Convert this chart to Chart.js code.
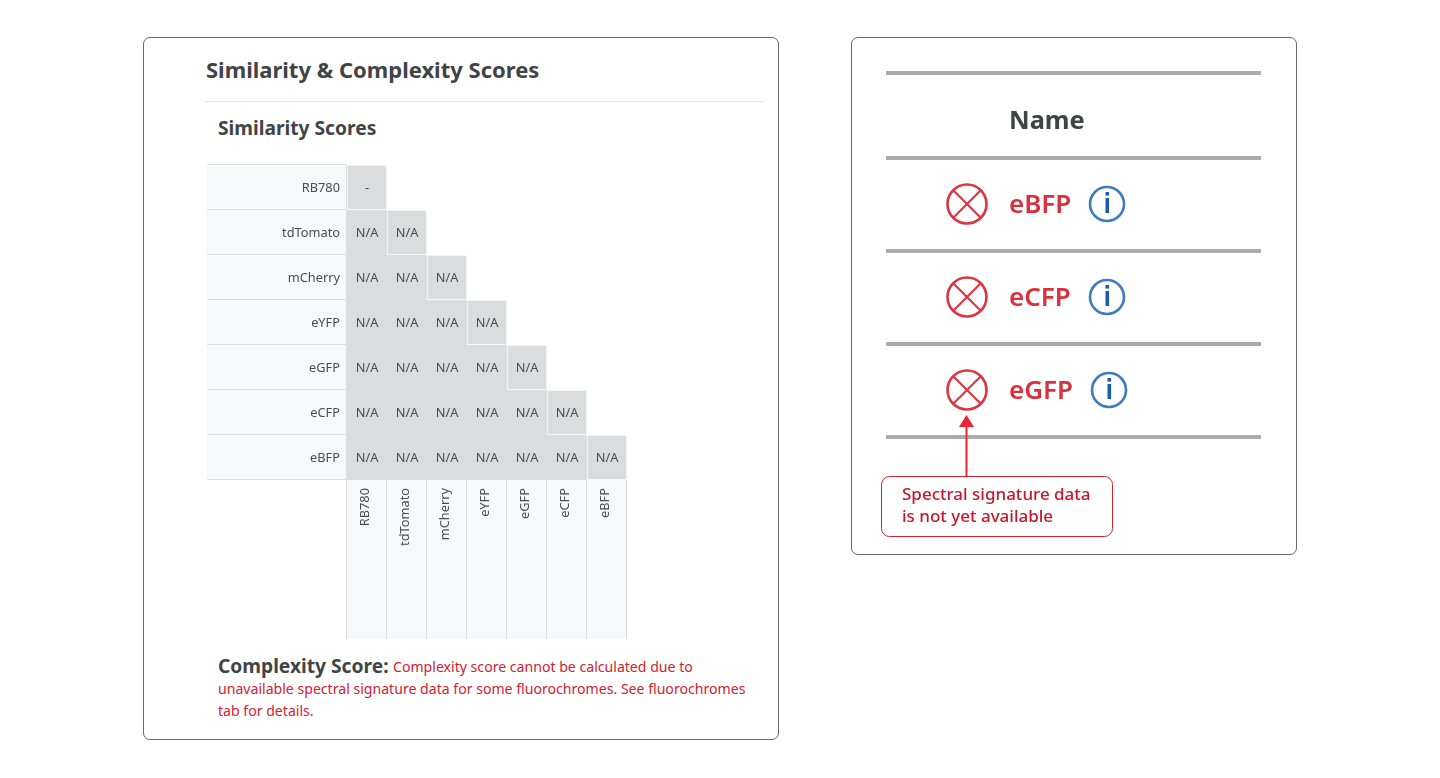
<!DOCTYPE html>
<html>
<head>
<meta charset="utf-8">
<title>Similarity & Complexity Scores</title>
<script src="https://cdn.jsdelivr.net/npm/chart.js@4"></script>
<style>
  html, body { margin: 0; padding: 0; background: #fff; }
  body { width: 1440px; height: 778px; position: relative; overflow: hidden; font-family: "Noto Sans", sans-serif; }
  .panel { position: absolute; box-sizing: border-box; border: 1px solid #66686b; border-radius: 7px; }
  .txt { position: absolute; white-space: nowrap; line-height: 1; transform: translateY(-50%); }
  .heading { color: #414345; font-weight: 700; }
  .red { color: #d4202f; font-size: 14.1px; }
  .rule { position: absolute; left: 886px; width: 375px; height: 4px; background: #ababab; filter: blur(.7px); }
  .soft { filter: blur(.6px); }
  #matrix { position: absolute; left: 207px; top: 164px; width: 420px; height: 475px; }
  svg { position: absolute; left: 0; top: 0; }
</style>
</head>
<body>
<div class="panel" style="left:143px;top:37px;width:636px;height:703px"></div>
<div class="panel" style="left:851px;top:37px;width:446px;height:518px"></div>

<div class="txt heading" style="left:206px;top:69px;font-size:22px">Similarity &amp; Complexity Scores</div>
<div style="position:absolute;left:205px;top:101px;width:560px;height:1px;background:#e2e3e5"></div>
<div class="txt heading" style="left:218px;top:128px;font-size:19.2px">Similarity Scores</div>

<canvas id="matrix" width="420" height="475"></canvas>

<div class="txt heading" style="left:218px;top:666px;font-size:19.2px">Complexity Score:</div>
<div class="txt red" style="left:393px;top:666.5px">Complexity score cannot be calculated due to</div>
<div class="txt red" style="left:218px;top:688.5px">unavailable spectral signature data for some fluorochromes. See fluorochromes</div>
<div class="txt red" style="left:218px;top:710.5px">tab for details.</div>

<div class="rule" style="top:71px"></div>
<div class="rule" style="top:156px"></div>
<div class="rule" style="top:249px"></div>
<div class="rule" style="top:342px"></div>
<div class="rule" style="top:435px"></div>
<div class="txt heading soft" style="left:1009px;top:120px;font-size:25.4px">Name</div>
<div class="txt soft" style="left:1009px;top:203px;font-size:26px;font-weight:600;color:#d9303c">eBFP</div>
<div class="txt soft" style="left:1009px;top:296px;font-size:26px;font-weight:600;color:#d9303c">eCFP</div>
<div class="txt soft" style="left:1009px;top:389px;font-size:26px;font-weight:600;color:#d9303c">eGFP</div>

<svg width="1440" height="778" id="icons" class="soft"></svg>
<svg width="1440" height="778">
  <line x1="966.5" y1="477" x2="966.5" y2="425" stroke="#ec2430" stroke-width="2"/>
  <polygon points="966.5,415 959,427 974,427" fill="#ec2430"/>
  <rect x="881.5" y="476.5" width="231" height="60" rx="8" fill="#fff" stroke="#d4202f"/>
</svg>
<div class="txt" style="left:902px;top:493px;font-size:17px;font-weight:500;color:#c9162b">Spectral signature data</div>
<div class="txt" style="left:902px;top:515px;font-size:17px;font-weight:500;color:#c9162b">is not yet available</div>

<script>
const fluorochromes = ['RB780', 'tdTomato', 'mCherry', 'eYFP', 'eGFP', 'eCFP', 'eBFP'];

// scores per row, left to right, only the lower triangle exists
const scoresRB780 = ['-'];
const scoresTdTomato = ['N/A', 'N/A'];
const scoresMCherry = ['N/A', 'N/A', 'N/A'];
const scoresEYFP = ['N/A', 'N/A', 'N/A', 'N/A'];
const scoresEGFP = ['N/A', 'N/A', 'N/A', 'N/A', 'N/A'];
const scoresECFP = ['N/A', 'N/A', 'N/A', 'N/A', 'N/A', 'N/A'];
const scoresEBFP = ['N/A', 'N/A', 'N/A', 'N/A', 'N/A', 'N/A', 'N/A'];
const scoreRows = [scoresRB780, scoresTdTomato, scoresMCherry, scoresEYFP, scoresEGFP, scoresECFP, scoresEBFP];

// rows that failed, right hand panel
const iconRows = [[204, 1107], [297, 1107], [390, 1109]];

const CELL = '#dbdcde';
const PANEL = '#f7f8fa';
const LINE = '#dcdee1';
const TEXT = '#4a4c4f';
const FONT = '"Noto Sans", sans-serif';

// each row is a floating bar per column, y is the row's band on the hidden scale
const datasets = scoreRows.map((row, r) => ({
  label: fluorochromes[r],
  scores: row,
  data: row.map(() => [fluorochromes.length - r - 1, fluorochromes.length - r]),
  backgroundColor: CELL,
  borderColor: (c) => (c.dataIndex === r ? '#ffffff' : CELL),
  borderWidth: (c) => (c.dataIndex === r ? 1 : 0),
  borderSkipped: false,
  categoryPercentage: 1,
  barPercentage: 1,
  grouped: false,
  yAxisID: 'y'
}));

// light label columns and their lines, behind the ticks and the cells
const labelPanels = {
  id: 'labelPanels',
  beforeDraw(chart) {
    const { ctx, chartArea: a, height } = chart;
    const colW = (a.right - a.left) / fluorochromes.length;
    const rowH = (a.bottom - a.top) / fluorochromes.length;
    ctx.save();
    ctx.fillStyle = PANEL;
    ctx.fillRect(0, a.top, a.left, a.bottom - a.top);
    ctx.fillRect(a.left, a.bottom, a.right - a.left, height - a.bottom);
    ctx.strokeStyle = LINE;
    ctx.lineWidth = 1;
    ctx.beginPath();
    for (let i = 0; i <= fluorochromes.length; i++) {
      const y = Math.round(a.top + i * rowH) - 0.5;
      ctx.moveTo(0, y);
      ctx.lineTo(a.left, y);
      const x = Math.round(a.left + i * colW) - 0.5;
      ctx.moveTo(x, a.bottom);
      ctx.lineTo(x, height);
    }
    ctx.moveTo(a.left - 0.5, a.top);
    ctx.lineTo(a.left - 0.5, a.bottom);
    ctx.moveTo(a.left, a.bottom - 0.5);
    ctx.lineTo(a.right, a.bottom - 0.5);
    ctx.stroke();
    ctx.restore();
  }
};

// score text in the middle of every bar
const cellText = {
  id: 'cellText',
  afterDatasetsDraw(chart) {
    const { ctx } = chart;
    ctx.save();
    ctx.font = '12.8px ' + FONT;
    ctx.fillStyle = TEXT;
    ctx.textAlign = 'center';
    ctx.textBaseline = 'middle';
    chart.data.datasets.forEach((ds, i) => {
      chart.getDatasetMeta(i).data.forEach((bar, j) => {
        const c = bar.getCenterPoint();
        ctx.fillText(ds.scores[j], c.x, c.y + 1);
      });
    });
    ctx.restore();
  }
};

// axes get a fixed size, the label padding must not shrink the cells
const fixAxis = (s, size) => {
  if (s.isHorizontal()) s.height = size; else s.width = size;
  s.paddingTop = s.paddingBottom = s.paddingLeft = s.paddingRight = 0;
};

new Chart(document.getElementById('matrix'), {
  type: 'bar',
  data: { labels: fluorochromes, datasets },
  plugins: [labelPanels, cellText],
  options: {
    responsive: false,
    animation: false,
    maintainAspectRatio: false,
    devicePixelRatio: 1,
    layout: { padding: { top: 1 }, autoPadding: false },
    plugins: { legend: { display: false }, title: { display: false }, tooltip: { enabled: false } },
    scales: {
      x: {
        position: 'bottom',
        grid: { display: false, drawTicks: false },
        border: { display: false },
        afterFit: (s) => fixAxis(s, 159),
        ticks: { color: TEXT, font: { family: FONT, size: 12.8 }, minRotation: 90, maxRotation: 90, padding: 8, labelOffset: -2, autoSkip: false }
      },
      y: { display: false, min: 0, max: fluorochromes.length },
      names: {
        type: 'category',
        position: 'left',
        labels: fluorochromes,
        offset: true,
        grid: { display: false, drawTicks: false },
        border: { display: false },
        afterFit: (s) => fixAxis(s, 140),
        ticks: { color: TEXT, font: { family: FONT, size: 12.8 }, padding: 7, labelOffset: 1, autoSkip: false }
      }
    }
  }
});

// crossed circles and info circles on the right
const svg = document.getElementById('icons');
let markup = '';
iconRows.forEach(([y, infoX]) => {
  const d = 14;
  markup += `<circle cx="967" cy="${y}" r="19.5" fill="none" stroke="#dc3540" stroke-width="2.6"/>
    <line x1="${967 - d}" y1="${y - d}" x2="${967 + d}" y2="${y + d}" stroke="#dc3540" stroke-width="2.2"/>
    <line x1="${967 - d}" y1="${y + d}" x2="${967 + d}" y2="${y - d}" stroke="#dc3540" stroke-width="2.2"/>
    <circle cx="${infoX}" cy="${y}" r="17" fill="none" stroke="#3f7bbf" stroke-width="2.6"/>
    <rect x="${infoX - 1.5}" y="${y - 6}" width="3.6" height="15" fill="#1d5ca8"/>
    <rect x="${infoX - 1.5}" y="${y - 12}" width="3.6" height="3.6" fill="#1d5ca8"/>`;
});
svg.innerHTML = markup;
</script>
</body>
</html>
